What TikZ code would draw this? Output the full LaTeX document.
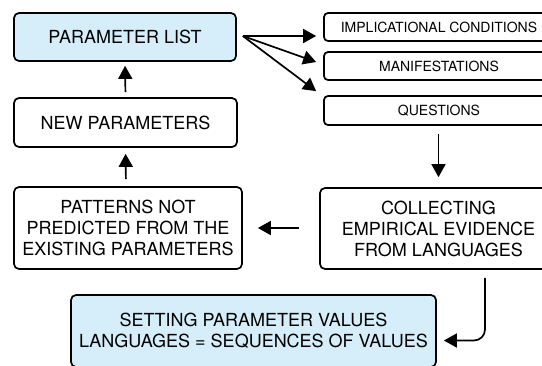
\documentclass[tikz,border=0pt]{standalone}
\usepackage{fontspec}
\setmainfont{TeX Gyre Heros}
\usetikzlibrary{arrows.meta}
\definecolor{boxblue}{RGB}{214,238,250}
\tikzset{
  box/.style={draw=black, line width=1.7pt, rounded corners=5pt, align=center,
    font=\fontsize{18}{21}\selectfont, inner sep=0pt},
  small/.style={draw=black, line width=1.7pt, rounded corners=4pt, align=center,
    font=\fontsize{14}{16}\selectfont, inner sep=0pt, minimum width=230pt},
  arr/.style={line width=1.7pt, -{Triangle[length=13pt,width=14pt]}},
}
\begin{document}
\begin{tikzpicture}[x=1pt,y=-1pt]
\useasboundingbox (0,0) rectangle (542,365);
\clip (0,0) rectangle (542,365);
\node[box, fill=boxblue, minimum width=222pt, minimum height=48pt] (pl) at (125,37) {PARAMETER LIST};
\node[box, minimum width=223pt, minimum height=49pt] (np) at (125.5,122.5) {NEW PARAMETERS};
\node[box, minimum width=228pt, minimum height=82pt] (pat) at (128,228) {PATTERNS NOT\\PREDICTED FROM THE\\EXISTING PARAMETERS};
\node[box, minimum width=237pt, minimum height=81pt] (col) at (438.5,228.5) {COLLECTING\\EMPIRICAL EVIDENCE\\FROM LANGUAGES};
\node[box, fill=boxblue, minimum width=365pt, minimum height=72pt] (set) at (253.5,331) {SETTING PARAMETER VALUES\\LANGUAGES = SEQUENCES OF VALUES};
\node[small, minimum height=28pt] (impl) at (439,27) {IMPLICATIONAL CONDITIONS};
\node[small, minimum height=28pt] (man) at (439,66) {MANIFESTATIONS};
\node[small, minimum height=29pt] (q) at (439,110.5) {QUESTIONS};
\coordinate (fan) at ([xshift=6pt,yshift=1pt]pl.east);
\draw[arr] (fan) -- ([xshift=-7pt,yshift=-9pt]impl.west);
\draw[arr] (fan) -- ([xshift=-7pt,yshift=4pt]man.west);
\draw[arr] (fan) -- ([xshift=-7pt,yshift=4pt]q.north west);
\draw[arr, shorten <=5pt, shorten >=4pt] (np.north) -- (pl.south);
\draw[arr, shorten <=7pt, shorten >=6pt] ([xshift=-2pt]pat.north) -- (np.south);
\draw[arr, shorten <=8pt, shorten >=10pt] (q.south -| col.north) -- (col.north);
\draw[arr, shorten <=20pt, shorten >=15pt] (col.west |- pat.east) -- (pat.east);
\draw[arr, rounded corners=11pt] ([xshift=46.5pt,yshift=-8pt]col.south) |- ([xshift=7pt,yshift=-9.5pt]set.east);
\end{tikzpicture}
\end{document}
